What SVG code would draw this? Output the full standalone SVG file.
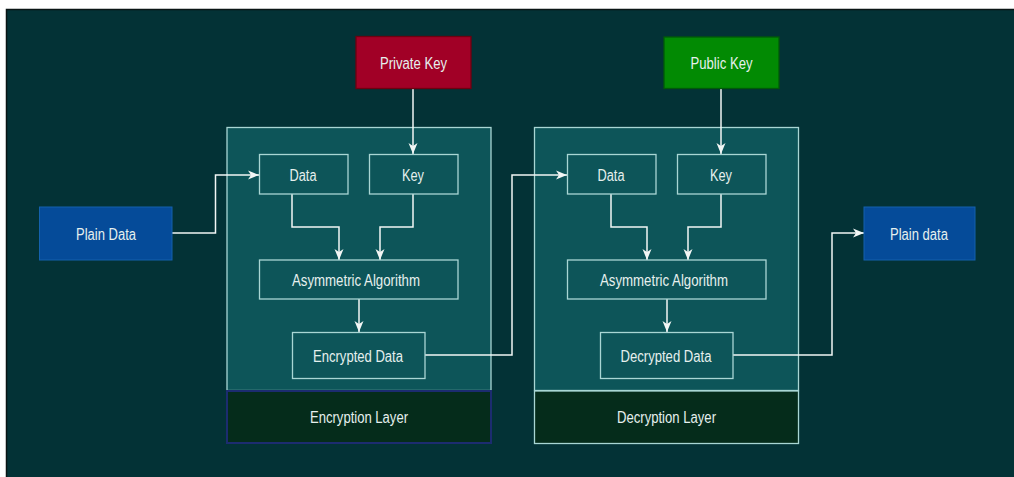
<svg xmlns="http://www.w3.org/2000/svg" width="1014" height="477" viewBox="0 0 1014 477">
  <defs>
    <style>
      .lbl { font-family: "Liberation Sans", Arial, sans-serif; font-size: 16px; fill: #e6f0ee; text-anchor: middle; }
      .inner { fill: none; stroke: #a9d6d4; stroke-width: 1.3; }
      .container { fill: #0d5559; stroke: #a9d6d4; stroke-width: 1.3; }
      .wire { fill: none; stroke: #f2f6f5; stroke-width: 1.5; }
    </style>
    <marker id="arrow" markerUnits="userSpaceOnUse" markerWidth="12" markerHeight="10" refX="11" refY="5" orient="auto">
      <path d="M0,0.5 L11,5 L0,9.5 L3,5 Z" fill="#f2f6f5"/>
    </marker>
  </defs>

  <!-- canvas -->
  <rect x="0" y="0" width="1014" height="477" fill="#ffffff"/>
  <rect x="6" y="9" width="1008" height="468" fill="#033236"/>
  <path d="M6.5,477 V9.5 H1014" fill="none" stroke="#0a1414" stroke-width="1.5"/>

  <!-- layer containers -->
  <g id="encryption-container">
    <rect class="container" x="227" y="127.5" width="264" height="263"/>
  </g>
  <g id="encryption-layer">
    <rect x="227" y="391" width="264" height="52" fill="#052c1b" stroke="#1c2c70" stroke-width="2"/>
    <text class="lbl" x="359" y="423" textLength="98" lengthAdjust="spacingAndGlyphs">Encryption Layer</text>
  </g>
  <g id="decryption-container">
    <rect class="container" x="534.5" y="127.5" width="264" height="263"/>
  </g>
  <g id="decryption-layer">
    <rect x="534.5" y="391" width="264" height="52.5" fill="#052c1b" stroke="#a9d6d4" stroke-width="1.3"/>
    <text class="lbl" x="666.5" y="423" textLength="99" lengthAdjust="spacingAndGlyphs">Decryption Layer</text>
  </g>

  <!-- connectors -->
  <g id="connectors" class="wire">
    <path class="wire" d="M172,233 H215.5 V175 H259" marker-end="url(#arrow)"/>
    <path class="wire" d="M413,89 V154" marker-end="url(#arrow)"/>
    <path class="wire" d="M292,194 V227 H339 V260" marker-end="url(#arrow)"/>
    <path class="wire" d="M413,194 V227 H380 V260" marker-end="url(#arrow)"/>
    <path class="wire" d="M359,299 V332" marker-end="url(#arrow)"/>
    <path class="wire" d="M425,355 H512 V175 H567" marker-end="url(#arrow)"/>
    <path class="wire" d="M721,89 V154" marker-end="url(#arrow)"/>
    <path class="wire" d="M611,194 V227 H647 V260" marker-end="url(#arrow)"/>
    <path class="wire" d="M721,194 V227 H688 V260" marker-end="url(#arrow)"/>
    <path class="wire" d="M667,299 V332" marker-end="url(#arrow)"/>
    <path class="wire" d="M733,355 H832 V233 H864" marker-end="url(#arrow)"/>
  </g>

  <!-- sources and sinks -->
  <g id="plain-data-in">
    <rect x="39.5" y="207" width="132.5" height="53" fill="#054b99" stroke="#1461ad" stroke-width="1"/>
    <text class="lbl" x="106" y="240" textLength="60" lengthAdjust="spacingAndGlyphs">Plain Data</text>
  </g>
  <g id="private-key">
    <rect x="356" y="36.5" width="115" height="52" fill="#a10026" stroke="#6e0010" stroke-width="1.3"/>
    <text class="lbl" x="413.5" y="68.5" textLength="67" lengthAdjust="spacingAndGlyphs">Private Key</text>
  </g>
  <g id="public-key">
    <rect x="664" y="37" width="115" height="51.5" fill="#028a03" stroke="#005a08" stroke-width="1.3"/>
    <text class="lbl" x="721.5" y="69" textLength="62" lengthAdjust="spacingAndGlyphs">Public Key</text>
  </g>
  <g id="plain-data-out">
    <rect x="864" y="207" width="111" height="53" fill="#054b99" stroke="#1461ad" stroke-width="1"/>
    <text class="lbl" x="919" y="240" textLength="58" lengthAdjust="spacingAndGlyphs">Plain data</text>
  </g>

  <!-- encryption stages -->
  <g id="enc-data">
    <rect class="inner" x="259.5" y="154.5" width="88.5" height="39.5"/>
    <text class="lbl" x="303" y="180.5" textLength="27" lengthAdjust="spacingAndGlyphs">Data</text>
  </g>
  <g id="enc-key">
    <rect class="inner" x="369.5" y="154.5" width="88.5" height="39.5"/>
    <text class="lbl" x="413" y="180.5" textLength="22" lengthAdjust="spacingAndGlyphs">Key</text>
  </g>
  <g id="enc-algorithm">
    <rect class="inner" x="259.5" y="260" width="198.5" height="39"/>
    <text class="lbl" x="356" y="286" textLength="128" lengthAdjust="spacingAndGlyphs">Asymmetric Algorithm</text>
  </g>
  <g id="encrypted-data">
    <rect class="inner" x="292.5" y="332.5" width="132.5" height="46"/>
    <text class="lbl" x="358" y="362" textLength="90" lengthAdjust="spacingAndGlyphs">Encrypted Data</text>
  </g>

  <!-- decryption stages -->
  <g id="dec-data">
    <rect class="inner" x="567.5" y="154.5" width="88.5" height="39.5"/>
    <text class="lbl" x="611" y="180.5" textLength="27" lengthAdjust="spacingAndGlyphs">Data</text>
  </g>
  <g id="dec-key">
    <rect class="inner" x="677.5" y="154.5" width="88.5" height="39.5"/>
    <text class="lbl" x="721" y="180.5" textLength="22" lengthAdjust="spacingAndGlyphs">Key</text>
  </g>
  <g id="dec-algorithm">
    <rect class="inner" x="567.5" y="260" width="198.5" height="39"/>
    <text class="lbl" x="664" y="286" textLength="128" lengthAdjust="spacingAndGlyphs">Asymmetric Algorithm</text>
  </g>
  <g id="decrypted-data">
    <rect class="inner" x="600.5" y="332.5" width="132.5" height="46"/>
    <text class="lbl" x="666" y="362" textLength="91" lengthAdjust="spacingAndGlyphs">Decrypted Data</text>
  </g>
</svg>
